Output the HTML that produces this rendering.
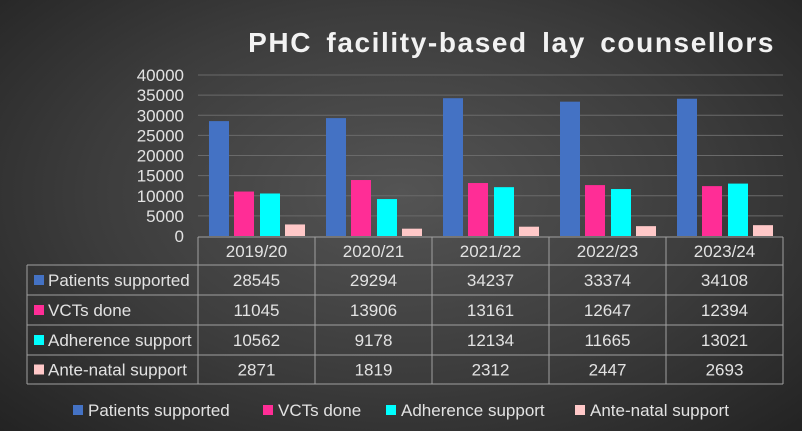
<!DOCTYPE html>
<html><head><meta charset="utf-8"><style>
html,body{margin:0;padding:0;width:802px;height:431px;overflow:hidden}
body{background:radial-gradient(ellipse at 50% 45%,#545454 0%,#3c3c3c 55%,#232323 100%);font-family:"Liberation Sans",sans-serif}
svg text{font-family:"Liberation Sans",sans-serif;fill:#e2e2e2}
</style></head><body>
<svg id="s" width="802" height="431" xmlns="http://www.w3.org/2000/svg">
<text x="775" y="52" text-anchor="end" font-size="28" font-weight="bold" style="fill:#f2f2f2;letter-spacing:1.6px;word-spacing:5px">PHC facility-based lay counsellors</text>
</svg>
<script>
(function(){
const s=document.getElementById('s');const NS='http://www.w3.org/2000/svg';
function el(t,a,txt){const e=document.createElementNS(NS,t);for(const k in a)e.setAttribute(k,a[k]);if(txt!==undefined)e.textContent=txt;s.appendChild(e);return e;}
const base=236,ytop=75,sc=(base-ytop)/40000;
for(let i=0;i<=8;i++){const y=base-i*5000*sc;
 if(i>0)el('line',{x1:198,x2:783,y1:y,y2:y,stroke:'#6a6a6a','stroke-width':1});
 el('text',{x:184,y:y+6,'text-anchor':'end','font-size':17},String(i*5000));}
const cols=['#4472c4','#ff2d96','#00ffff','#ffc8c8'];
const names=['Patients supported','VCTs done','Adherence support','Ante-natal support'];
const yrs=['2019/20','2020/21','2021/22','2022/23','2023/24'];
const d=[[28545,29294,34237,33374,34108],[11045,13906,13161,12647,12394],[10562,9178,12134,11665,13021],[2871,1819,2312,2447,2693]];
const off=[11,36,62,87];
for(let g=0;g<5;g++){const gx=198+117*g;
 for(let k=0;k<4;k++){const h=d[k][g]*sc;el('rect',{x:gx+off[k],y:base-h,width:20,height:h,fill:cols[k]});}}
const lc='#a0a0a0';
const rows=[237,265,295,325,355,384];
el('line',{x1:198,x2:783,y1:237,y2:237,stroke:lc});
for(let r=1;r<rows.length;r++)el('line',{x1:27,x2:783,y1:rows[r],y2:rows[r],stroke:lc});
el('line',{x1:27,x2:27,y1:265,y2:384,stroke:lc});
for(let c=0;c<=5;c++){const x=198+117*c;el('line',{x1:x,x2:x,y1:237,y2:384,stroke:lc});}
for(let g=0;g<5;g++)el('text',{x:198+117*g+58.5,y:257,'text-anchor':'middle','font-size':17},yrs[g]);
for(let k=0;k<4;k++){const y0=rows[k+1],y1=rows[k+2],cy=(y0+y1)/2;
 el('rect',{x:34,y:cy-5,width:10,height:10,fill:cols[k]});
 el('text',{x:48,y:cy+6,'font-size':17},names[k]);
 for(let g=0;g<5;g++)el('text',{x:198+117*g+58.5,y:cy+6,'text-anchor':'middle','font-size':17},String(d[k][g]));}
const lx=[73,263,386,575];
for(let k=0;k<4;k++){el('rect',{x:lx[k],y:405,width:10,height:10,fill:cols[k]});
 el('text',{x:lx[k]+15,y:416,'font-size':17},names[k]);}
})();
</script>
</body></html>
